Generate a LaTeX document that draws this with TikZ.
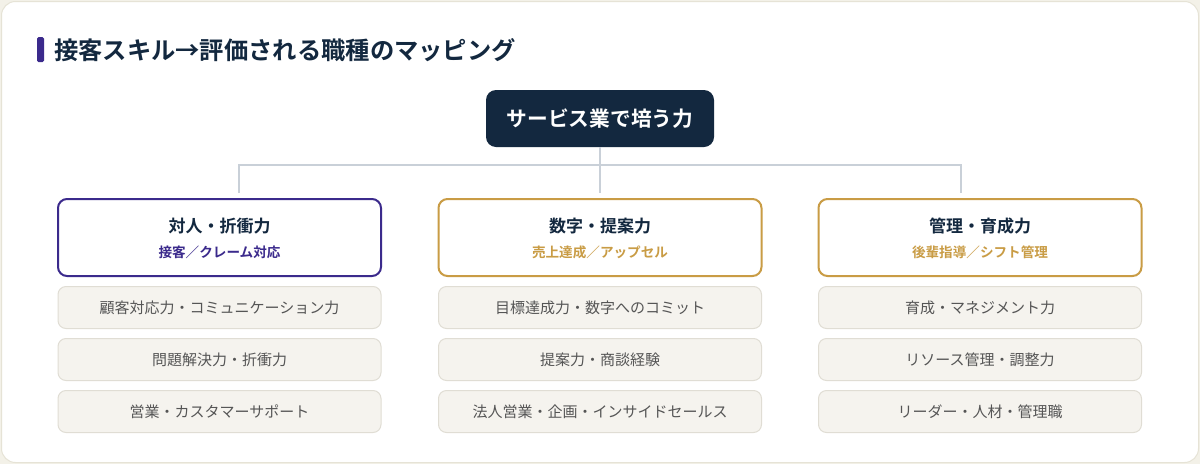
\documentclass[tikz,border=0pt]{standalone}
\usepackage{fontspec}
\setmainfont{Noto Sans CJK JP}[BoldFont={Noto Sans CJK JP Bold}]
\definecolor{bgout}{HTML}{F3F1E8}
\definecolor{cardborder}{HTML}{E6E3D6}
\definecolor{navy}{HTML}{13283F}
\definecolor{purp}{HTML}{3B2A8C}
\definecolor{gold}{HTML}{C99C45}
\definecolor{linec}{HTML}{C9D0D8}
\definecolor{itemfill}{HTML}{F5F3EE}
\definecolor{itemborder}{HTML}{E0DDD4}
\definecolor{itemtext}{HTML}{555555}
\begin{document}
\begin{tikzpicture}[x=1pt,y=-1pt,
  topbox/.style={fill=navy,rounded corners=10pt,text=white,font=\bfseries\fontsize{20.7}{24}\selectfont,inner sep=0pt},
  catbox/.style={draw=#1,line width=2pt,fill=white,rounded corners=9pt,inner sep=0pt},
  cattitle/.style={text=navy,font=\bfseries\fontsize{17}{20}\selectfont,inner sep=0pt},
  catsub/.style={text=#1,font=\bfseries\fontsize{13.6}{16}\selectfont,inner sep=0pt},
  itembox/.style={draw=itemborder,line width=1pt,fill=itemfill,rounded corners=8pt,inner sep=0pt,text=itemtext,font=\fontsize{15}{18}\selectfont},
  conn/.style={draw=linec,line width=2pt}
]
\useasboundingbox (0,0) rectangle (1200,464);
\fill[bgout] (0,0) rectangle (1200,464);
\draw[cardborder,line width=1pt,fill=white,rounded corners=14pt] (1.5,1.5) rectangle (1198.5,462.5);
% title
\fill[purp,rounded corners=1.5pt] (37,37) rectangle (44,62) coordinate (titlebar);
\node[anchor=west,inner sep=0pt,text=navy,font=\bfseries\fontsize{24.3}{28}\selectfont] (title) at (54,50) {接客スキル→評価される職種のマッピング};
% top
\node[topbox,minimum width=228pt,minimum height=57pt] (top) at (600,118.5) {サービス業で培う力};
% connectors
\coordinate (hl) at (239,165);
\coordinate (hm) at (600,165);
\coordinate (hr) at (961,165);
\coordinate (dl) at (239,193);
\coordinate (dm) at (600,193);
\coordinate (dr) at (961,193);
\draw[conn] (top.south) -- (hm);
\draw[conn] (dl) -- (hl) -- (hr) -- (dr);
\draw[conn] (hm) -- (dm);
% categories
\foreach \n/\x/\c/\t/\s in {a/219.5/purp/対人・折衝力/接客／クレーム対応, b/600/gold/数字・提案力/売上達成／アップセル, c/980/gold/管理・育成力/後輩指導／シフト管理}{
  \node[catbox=\c,minimum width=323pt,minimum height=77pt] (cat\n) at (\x,237.5) {};
  \node[cattitle] (cat\n t) at (\x,226) {\t};
  \node[catsub=\c] (cat\n s) at (\x,252) {\s};
}
% items
\foreach \n/\x/\i/\j/\k in {a/219.5/顧客対応力・コミュニケーション力/問題解決力・折衝力/営業・カスタマーサポート, b/600/目標達成力・数字へのコミット/提案力・商談経験/法人営業・企画・インサイドセールス, c/980/育成・マネジメント力/リソース管理・調整力/リーダー・人材・管理職}{
  \node[itembox,minimum width=323pt,minimum height=42pt] (\n1) at (\x,307.5) {\i};
  \node[itembox,minimum width=323pt,minimum height=42pt] (\n2) at (\x,359.5) {\j};
  \node[itembox,minimum width=323pt,minimum height=42pt] (\n3) at (\x,411.5) {\k};
}
\end{tikzpicture}
\end{document}
